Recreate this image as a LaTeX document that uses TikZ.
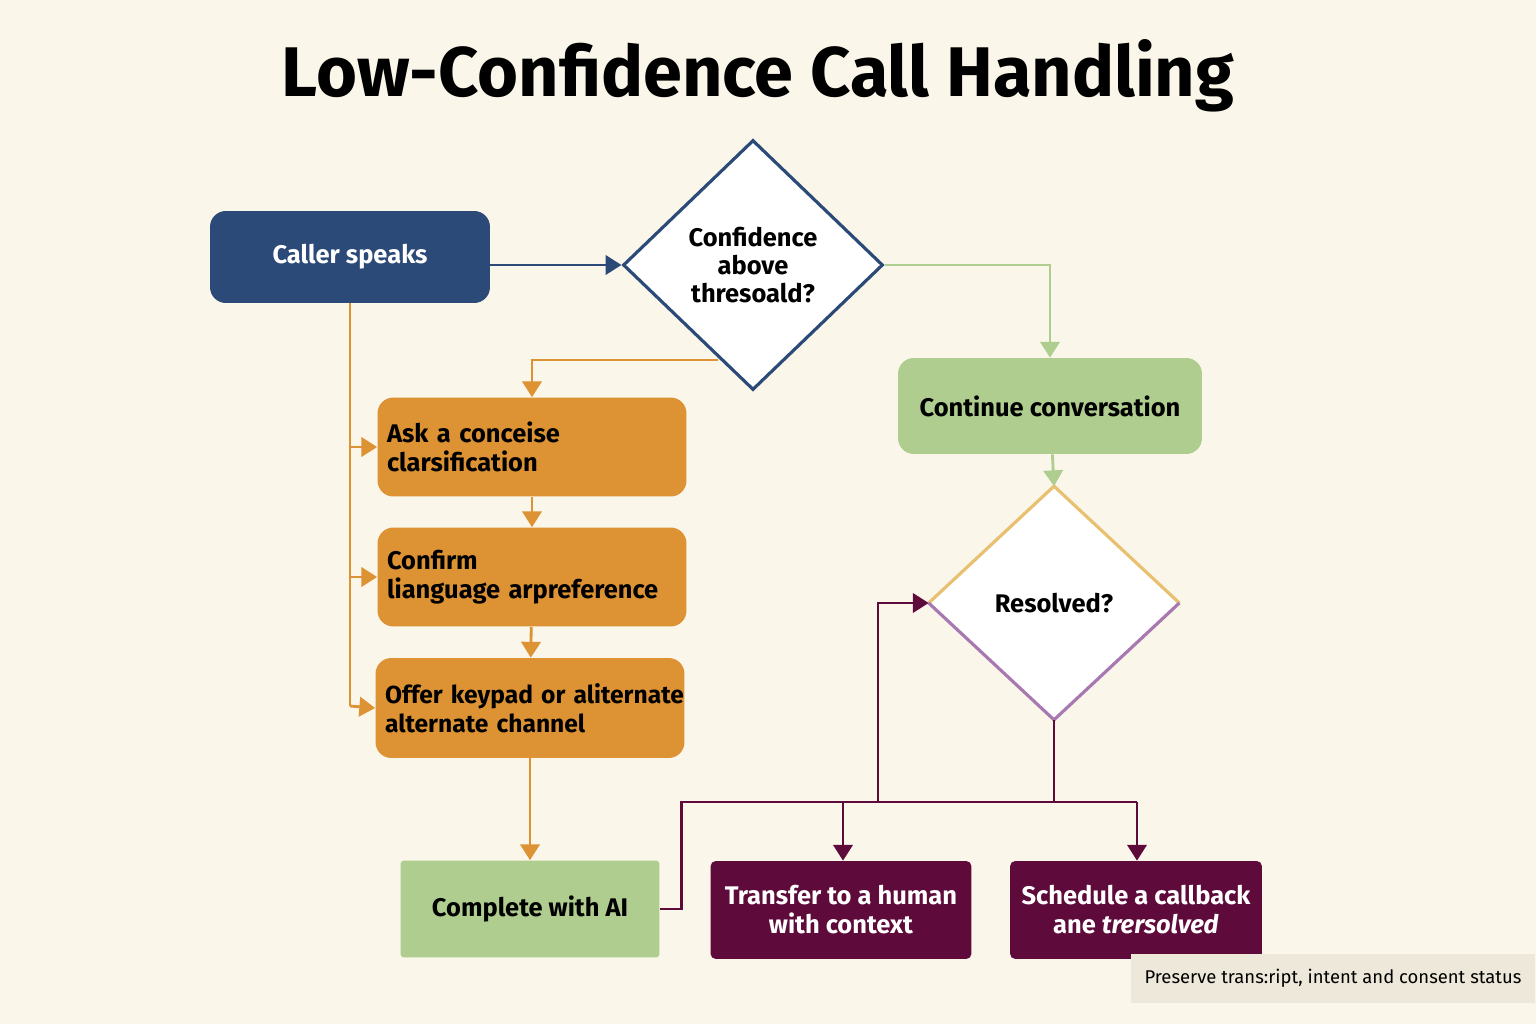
\documentclass[tikz,border=0pt]{standalone}
\usepackage{fontspec}
\setmainfont{Fira Sans}
\usetikzlibrary{shapes.geometric,arrows.meta}
\definecolor{navy}{HTML}{2B4A78}
\definecolor{orng}{HTML}{DD9233}
\definecolor{lgreen}{HTML}{AECD8F}
\definecolor{maroon}{HTML}{5E0B3B}
\definecolor{gold}{HTML}{E8C070}
\definecolor{lilac}{HTML}{A878B0}
\definecolor{paper}{HTML}{FAF6EA}
\definecolor{notegray}{HTML}{EDE8D9}
\tikzset{
	box/.style={draw=none, rounded corners=9pt, align=left, font=\fontsize{14.5}{16.5}\selectfont\bfseries, inner sep=0pt},
	arr/.style={line width=1.6pt, -{Triangle[length=9pt,width=11pt]}},
	ln/.style={line width=1.6pt}
}
\begin{document}
\begin{tikzpicture}[x=0.02cm, y=-0.02cm]
	\useasboundingbox (0,0) rectangle (1536,1024);
	\fill[paper] (0,0) rectangle (1536,1024);
	\node[font=\fontsize{40}{46}\selectfont\bfseries] (title) at (758,76) {Low-Confidence Call Handling};

	\draw (350,257)		node[box, fill=navy, text=white, minimum width=5.6cm, minimum height=1.84cm, align=center] 	(caller) 	{Caller speaks};
	\draw (753,265)		node[draw=navy, line width=1.8pt, fill=white, diamond, minimum width=5.2cm, minimum height=5cm, align=center, font=\fontsize{14.5}{16}\selectfont\bfseries, inner sep=0pt] 	(conf) 	{Confidence\\above\\thresoald?};
	\draw (1050,406)	node[box, fill=lgreen, minimum width=6.08cm, minimum height=1.92cm, align=center] 	(cont) 		{Continue conversation};
	\draw (532,447)		node[box, fill=orng, minimum width=6.18cm, minimum height=1.98cm, text width=5.8cm] 	(ask) 		{Ask a conceise\\clarsification};
	\draw (532,577)		node[box, fill=orng, minimum width=6.18cm, minimum height=1.98cm, text width=5.8cm] 	(confirm) 	{Confirm\\ lianguage arpreference};
	\draw (530,708)		node[box, fill=orng, minimum width=6.18cm, minimum height=2cm, text width=5.8cm, font=\fontsize{14}{16.5}\selectfont\bfseries] 	(offer) 	{\mbox{Offer keypad or aliternate}\\alternate channel};
	\draw (1054,603)	node[diamond, fill=white, minimum width=5cm, minimum height=4.66cm, inner sep=0pt, font=\fontsize{14.5}{16}\selectfont\bfseries] 	(res) 	{Resolved?};
	\draw (530,909)		node[box, fill=lgreen, rounded corners=2pt, minimum width=5.18cm, minimum height=1.94cm, align=center] 	(ai) 		{Complete with AI};
	\draw (841,910)		node[box, fill=maroon, text=white, rounded corners=3pt, minimum width=5.22cm, minimum height=1.96cm, align=center] 	(human) 	{Transfer to a human\\with context};
	\draw (1136,910)	node[box, fill=maroon, text=white, rounded corners=3pt, minimum width=5.04cm, minimum height=1.96cm, align=center] 	(callback) 	{Schedule a callback\\ane \textit{trersolved}};
	\draw (1333,978)	node[fill=notegray, minimum width=8.1cm, minimum height=0.98cm, font=\fontsize{10.5}{12}\selectfont] 	(note) 	{Preserve trans:ript, intent and consent status};

	% two-tone border of the second decision
	\draw[gold, line width=1.8pt] (res.west) -- (res.north) -- (res.east);
	\draw[lilac, line width=1.8pt] (res.west) -- (res.south) -- (res.east);

	\draw[arr, navy] (caller.east |- conf.west) -- (conf.west);
	\draw[arr, lgreen] (conf.east) -| (cont.north);
	\coordinate (lowleft) at (718,360);
	\draw[arr, orng] (lowleft) -| (ask.north);
	\draw[ln, orng] (caller.south) -- (350,706) coordinate (trunk);
	\draw[arr, orng] (350,447) -- (ask.west);
	\draw[arr, orng] (350,577) -- (confirm.west);
	\draw[arr, orng] (trunk) -- (offer.west);
	\draw[arr, orng] (ask) -- (confirm);
	\draw[arr, orng] (confirm) -- (offer);
	\draw[arr, orng] (offer) -- (ai);
	\draw[arr, lgreen] (cont) -- (res.north);

	\draw[ln, maroon] (res.south) -- (1054,802) coordinate (bus);
	\draw[ln, maroon] (ai.east) -- ++(22,0) |- (1137,802);
	\draw[arr, maroon] (843,802) -- (human.north -| 843,0);
	\draw[arr, maroon] (1137,802) -- (callback.north -| 1137,0);
	\draw[arr, maroon] (878,802) |- (res.west);
\end{tikzpicture}
\end{document}
